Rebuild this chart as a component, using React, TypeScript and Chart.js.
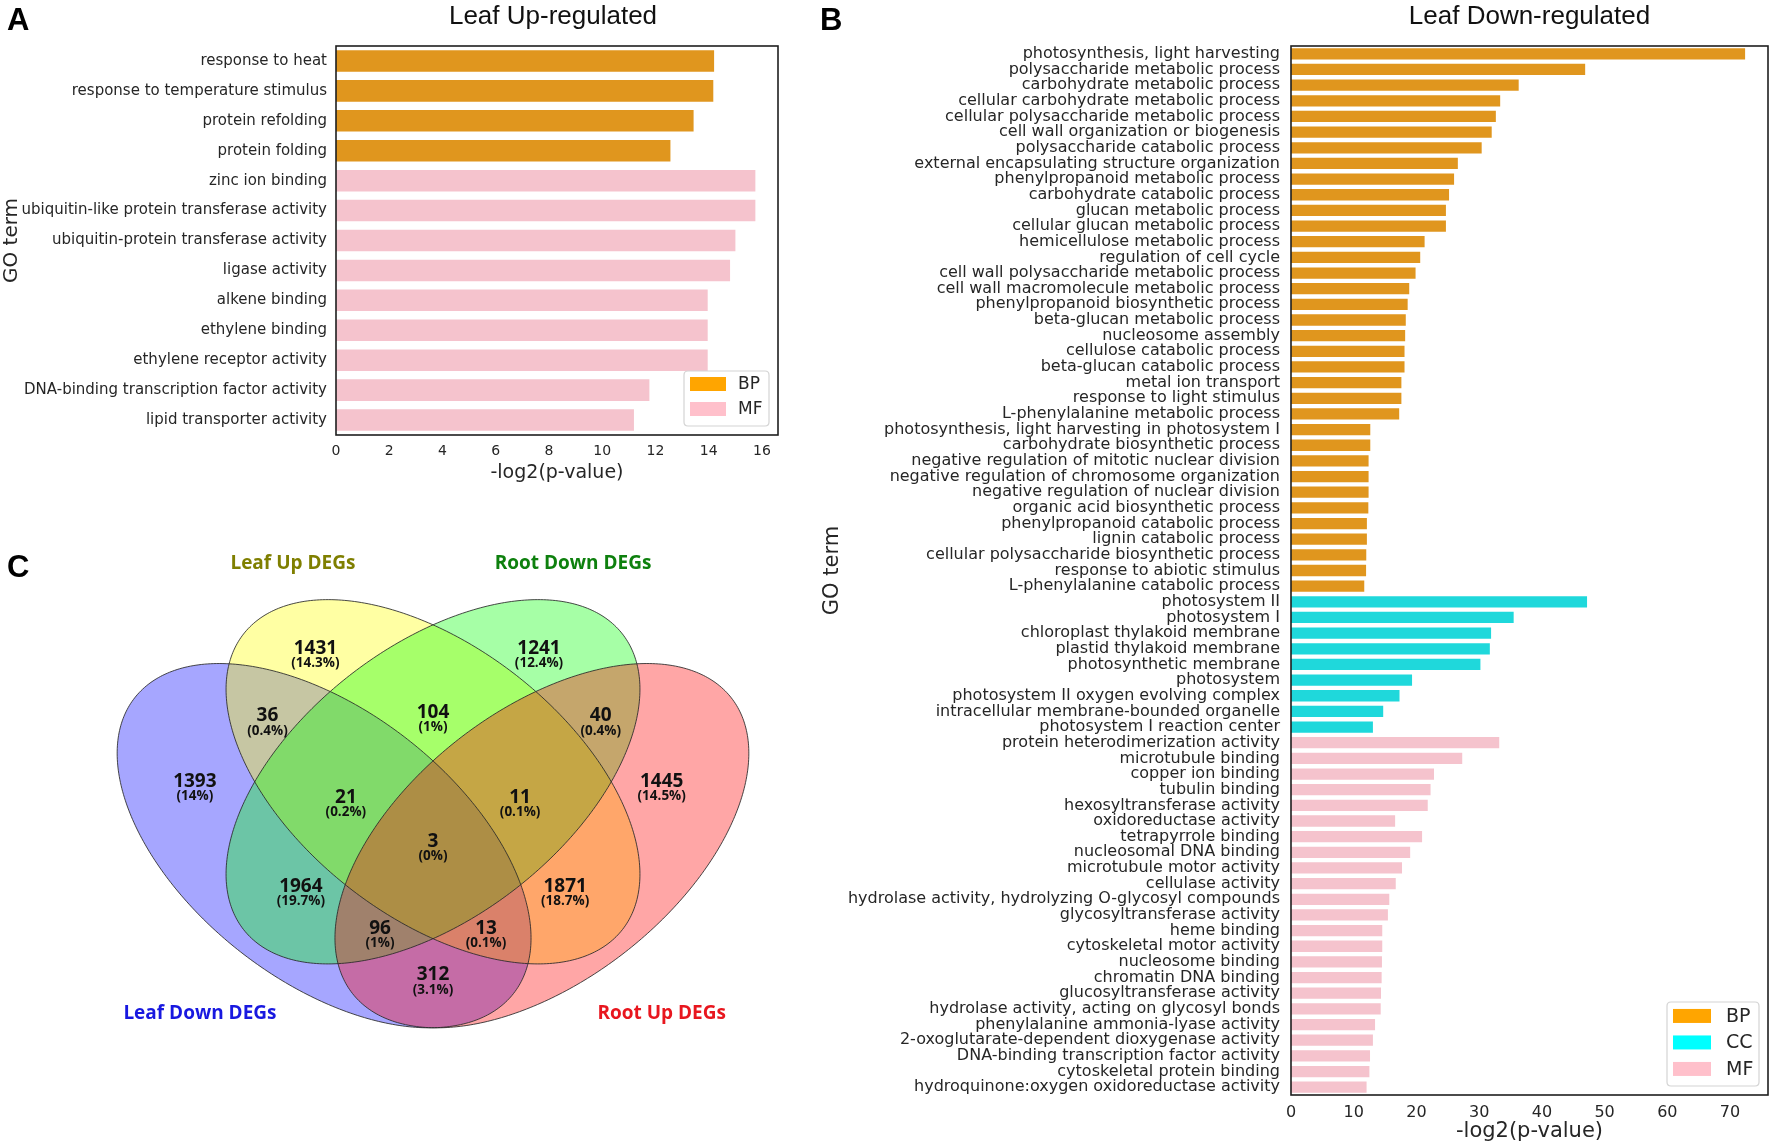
import React, { useEffect, useRef } from 'react';
import { Chart, registerables } from 'chart.js';

Chart.register(...registerables);

// ---------------- Data: panel A (Leaf Up-regulated) ----------------
const upTerms = [
  'response to heat',
  'response to temperature stimulus',
  'protein refolding',
  'protein folding',
  'zinc ion binding',
  'ubiquitin-like protein transferase activity',
  'ubiquitin-protein transferase activity',
  'ligase activity',
  'alkene binding',
  'ethylene binding',
  'ethylene receptor activity',
  'DNA-binding transcription factor activity',
  'lipid transporter activity',
];
const upCats = ['BP', 'BP', 'BP', 'BP', 'MF', 'MF', 'MF', 'MF', 'MF', 'MF', 'MF', 'MF', 'MF'];
const upValues = [14.2, 14.17, 13.43, 12.56, 15.75, 15.75, 15.0, 14.8, 13.96, 13.96, 13.96, 11.77, 11.19];

// ---------------- Data: panel B (Leaf Down-regulated) ----------------
const downTerms = [
  'photosynthesis, light harvesting',
  'polysaccharide metabolic process',
  'carbohydrate metabolic process',
  'cellular carbohydrate metabolic process',
  'cellular polysaccharide metabolic process',
  'cell wall organization or biogenesis',
  'polysaccharide catabolic process',
  'external encapsulating structure organization',
  'phenylpropanoid metabolic process',
  'carbohydrate catabolic process',
  'glucan metabolic process',
  'cellular glucan metabolic process',
  'hemicellulose metabolic process',
  'regulation of cell cycle',
  'cell wall polysaccharide metabolic process',
  'cell wall macromolecule metabolic process',
  'phenylpropanoid biosynthetic process',
  'beta-glucan metabolic process',
  'nucleosome assembly',
  'cellulose catabolic process',
  'beta-glucan catabolic process',
  'metal ion transport',
  'response to light stimulus',
  'L-phenylalanine metabolic process',
  'photosynthesis, light harvesting in photosystem I',
  'carbohydrate biosynthetic process',
  'negative regulation of mitotic nuclear division',
  'negative regulation of chromosome organization',
  'negative regulation of nuclear division',
  'organic acid biosynthetic process',
  'phenylpropanoid catabolic process',
  'lignin catabolic process',
  'cellular polysaccharide biosynthetic process',
  'response to abiotic stimulus',
  'L-phenylalanine catabolic process',
  'photosystem II',
  'photosystem I',
  'chloroplast thylakoid membrane',
  'plastid thylakoid membrane',
  'photosynthetic membrane',
  'photosystem',
  'photosystem II oxygen evolving complex',
  'intracellular membrane-bounded organelle',
  'photosystem I reaction center',
  'protein heterodimerization activity',
  'microtubule binding',
  'copper ion binding',
  'tubulin binding',
  'hexosyltransferase activity',
  'oxidoreductase activity',
  'tetrapyrrole binding',
  'nucleosomal DNA binding',
  'microtubule motor activity',
  'cellulase activity',
  'hydrolase activity, hydrolyzing O-glycosyl compounds',
  'glycosyltransferase activity',
  'heme binding',
  'cytoskeletal motor activity',
  'nucleosome binding',
  'chromatin DNA binding',
  'glucosyltransferase activity',
  'hydrolase activity, acting on glycosyl bonds',
  'phenylalanine ammonia-lyase activity',
  '2-oxoglutarate-dependent dioxygenase activity',
  'DNA-binding transcription factor activity',
  'cytoskeletal protein binding',
  'hydroquinone:oxygen oxidoreductase activity',
];
const downCats = [
  ...Array(35).fill('BP'),
  ...Array(9).fill('CC'),
  ...Array(23).fill('MF'),
];
const downValues = [
  // BP
  72.4, 46.9, 36.3, 33.35, 32.66, 32.0, 30.4, 26.6, 26.0, 25.2, 24.7, 24.7, 21.3, 20.6, 19.86,
  18.85, 18.6, 18.3, 18.2, 18.1, 18.1, 17.6, 17.6, 17.25, 12.64, 12.64, 12.37, 12.37, 12.37,
  12.33, 12.1, 12.1, 12.0, 11.97, 11.68,
  // CC
  47.2, 35.5, 31.9, 31.7, 30.2, 19.3, 17.3, 14.7, 13.06,
  // MF
  33.2, 27.3, 22.8, 22.25, 21.8, 16.6, 20.9, 19.0, 17.7, 16.7, 15.67, 15.45, 14.55, 14.55,
  14.5, 14.45, 14.35, 14.3, 13.4, 13.06, 12.6, 12.5, 12.05,
];

const upCategoryList = ['BP', 'MF'];
const downCategoryList = ['BP', 'CC', 'MF'];

// ---------------- Data: panel C (Venn) ----------------
const vennSetNames = ['Leaf Down DEGs', 'Leaf Up DEGs', 'Root Down DEGs', 'Root Up DEGs'];
const vennCounts = [1431, 1241, 36, 104, 40, 1393, 1445, 21, 11, 3, 1964, 1871, 96, 13, 312];
const vennPercents = [
  '(14.3%)', '(12.4%)', '(0.4%)', '(1%)', '(0.4%)', '(14%)', '(14.5%)', '(0.2%)', '(0.1%)',
  '(0%)', '(19.7%)', '(18.7%)', '(1%)', '(0.1%)', '(3.1%)',
];

// ---------------- Styles / layout ----------------
const barColors: Record<string, string> = { BP: '#E0961E', CC: '#1FD8DB', MF: '#F5C3CD' };
const legendColors: Record<string, string> = { BP: '#FFA500', CC: '#00FFFF', MF: '#FFC0CB' };
const vennFills = ['rgba(0,0,255,0.35)', 'rgba(255,255,0,0.36)', 'rgba(0,255,0,0.35)', 'rgba(255,0,0,0.35)'];
const vennNameColors = ['#1818E0', '#7F7F00', '#0E800E', '#E8161E'];

const vennShape = {
  a: 0.35,
  b: 0.2,
  ellipses: [
    { cx: 0.35, cy: 0.47, rot: -Math.PI / 4 },
    { cx: 0.5, cy: 0.57, rot: -Math.PI / 4 },
    { cx: 0.5, cy: 0.57, rot: Math.PI / 4 },
    { cx: 0.65, cy: 0.47, rot: Math.PI / 4 },
  ],
};
const vennRegionPos = [
  { x: 0.338, y: 0.779 }, { x: 0.646, y: 0.779 },
  { x: 0.272, y: 0.673 }, { x: 0.5, y: 0.679 }, { x: 0.731, y: 0.673 },
  { x: 0.172, y: 0.571 }, { x: 0.815, y: 0.571 },
  { x: 0.38, y: 0.546 }, { x: 0.62, y: 0.546 },
  { x: 0.5, y: 0.477 },
  { x: 0.318, y: 0.406 }, { x: 0.682, y: 0.406 },
  { x: 0.427, y: 0.341 }, { x: 0.573, y: 0.341 },
  { x: 0.5, y: 0.268 },
];
const vennNamePos = [
  { x: 0.179, y: 0.207 }, { x: 0.307, y: 0.912 }, { x: 0.693, y: 0.912 }, { x: 0.815, y: 0.207 },
];

const TEXT = '#262626';

// ---------------- Plugins ----------------
const panelDeco = {
  id: 'panelDeco',
  afterDraw(chart: any, _args: any, o: any) {
    if (!o) return;
    const { ctx, chartArea } = chart;
    ctx.save();
    if (o.frame) {
      ctx.strokeStyle = '#1e1e1e';
      ctx.lineWidth = 1.6;
      ctx.strokeRect(chartArea.left, chartArea.top, chartArea.right - chartArea.left, chartArea.bottom - chartArea.top);
    }
    if (o.title) {
      ctx.font = o.titleFont;
      ctx.fillStyle = '#111';
      ctx.textAlign = 'center';
      ctx.textBaseline = 'alphabetic';
      ctx.fillText(o.title, (chartArea.left + chartArea.right) / 2 + (o.titleDx || 0), o.titleY);
    }
    if (o.letter) {
      ctx.font = 'bold 31px "Liberation Sans", Arial, sans-serif';
      ctx.fillStyle = '#000';
      ctx.textAlign = 'left';
      ctx.textBaseline = 'alphabetic';
      ctx.fillText(o.letter, o.letterX, o.letterY);
    }
    ctx.restore();
  },
};

const boxLegend = {
  id: 'boxLegend',
  afterDraw(chart: any, _args: any, o: any) {
    if (!o || !o.display) return;
    const { ctx, chartArea } = chart;
    const items = chart.data.datasets.map((d: any) => ({ label: d.label, color: d.legendColor }));
    const x = chartArea.right - o.inset - o.width;
    const y = chartArea.bottom - o.inset - o.height;
    ctx.save();
    ctx.beginPath();
    const r = 4;
    ctx.moveTo(x + r, y);
    ctx.lineTo(x + o.width - r, y);
    ctx.quadraticCurveTo(x + o.width, y, x + o.width, y + r);
    ctx.lineTo(x + o.width, y + o.height - r);
    ctx.quadraticCurveTo(x + o.width, y + o.height, x + o.width - r, y + o.height);
    ctx.lineTo(x + r, y + o.height);
    ctx.quadraticCurveTo(x, y + o.height, x, y + o.height - r);
    ctx.lineTo(x, y + r);
    ctx.quadraticCurveTo(x, y, x + r, y);
    ctx.closePath();
    ctx.fillStyle = 'rgba(255,255,255,0.85)';
    ctx.fill();
    ctx.strokeStyle = '#d4d4d4';
    ctx.lineWidth = 1.2;
    ctx.stroke();
    ctx.font = `${o.fontSize}px "DejaVu Sans", sans-serif`;
    ctx.textBaseline = 'middle';
    ctx.textAlign = 'left';
    items.forEach((it: any, i: number) => {
      const cy = y + o.padTop + i * o.rowH + o.rowH / 2;
      ctx.fillStyle = it.color;
      ctx.fillRect(x + o.padLeft, cy - o.patchH / 2, o.patchW, o.patchH);
      ctx.fillStyle = TEXT;
      ctx.fillText(it.label, x + o.padLeft + o.patchW + o.gap, cy + 1);
    });
    ctx.restore();
  },
};

const vennDraw = {
  id: 'vennDraw',
  beforeDatasetsDraw(chart: any, _args: any, o: any) {
    if (!o) return;
    const { ctx, scales } = chart;
    const sx = scales.x;
    const sy = scales.y;
    const tracePath = (e: any) => {
      ctx.beginPath();
      for (let k = 0; k <= 360; k++) {
        const t = (k * Math.PI) / 180;
        const u = vennShape.a * Math.cos(t);
        const v = vennShape.b * Math.sin(t);
        const dx = u * Math.cos(e.rot) - v * Math.sin(e.rot);
        const dy = u * Math.sin(e.rot) + v * Math.cos(e.rot);
        const px = sx.getPixelForValue(e.cx + dx);
        const py = sy.getPixelForValue(e.cy + dy);
        if (k === 0) ctx.moveTo(px, py);
        else ctx.lineTo(px, py);
      }
      ctx.closePath();
    };
    ctx.save();
    vennShape.ellipses.forEach((e, i) => {
      tracePath(e);
      ctx.fillStyle = vennFills[i];
      ctx.fill();
    });
    ctx.strokeStyle = 'rgba(40,40,40,0.85)';
    ctx.lineWidth = 1;
    vennShape.ellipses.forEach((e) => {
      tracePath(e);
      ctx.stroke();
    });
    ctx.restore();
  },
  afterDatasetsDraw(chart: any, _args: any, o: any) {
    if (!o) return;
    const { ctx } = chart;
    const regions = chart.getDatasetMeta(0).data;
    const names = chart.getDatasetMeta(1).data;
    ctx.save();
    ctx.textAlign = 'center';
    ctx.textBaseline = 'middle';
    ctx.fillStyle = '#111';
    regions.forEach((p: any, i: number) => {
      ctx.font = 'bold 19px "Open Sans", "DejaVu Sans", sans-serif';
      ctx.fillText(String(vennCounts[i]), p.x, p.y);
      ctx.font = 'bold 13.5px "Open Sans", "DejaVu Sans", sans-serif';
      ctx.fillText(vennPercents[i], p.x, p.y + 15);
    });
    names.forEach((p: any, i: number) => {
      ctx.font = 'bold 19px "Open Sans", "DejaVu Sans", sans-serif';
      ctx.fillStyle = vennNameColors[i];
      ctx.fillText(vennSetNames[i], p.x, p.y);
    });
    ctx.restore();
  },
};

// ---------------- Config builders ----------------
function barConfig(terms: string[], cats: string[], values: number[], catList: string[], p: any) {
  const datasets = catList.map((c) => ({
    label: c,
    data: values.map((v, i) => (cats[i] === c ? v : null)),
    backgroundColor: barColors[c],
    legendColor: legendColors[c],
    grouped: false,
    barPercentage: 0.72,
    categoryPercentage: 1,
    borderWidth: 0,
  }));
  return {
    type: 'bar',
    data: { labels: terms, datasets },
    options: {
      indexAxis: 'y',
      responsive: false,
      animation: false,
      events: [],
      layout: { padding: { top: p.top, right: p.right, left: 0, bottom: 0 } },
      scales: {
        x: {
          type: 'linear',
          min: 0,
          max: p.xMax,
          grid: { display: false, drawTicks: false },
          border: { display: false },
          ticks: {
            stepSize: p.step,
            includeBounds: false,
            color: TEXT,
            padding: p.xPad,
            font: { family: '"DejaVu Sans", sans-serif', size: p.xTick },
          },
          title: {
            display: true,
            text: '-log2(p-value)',
            color: TEXT,
            padding: { top: 0, bottom: 4 },
            font: { family: '"DejaVu Sans", sans-serif', size: p.xTitle },
          },
          afterFit: (s: any) => {
            s.height = p.xH;
          },
        },
        y: {
          grid: { display: false, drawTicks: false },
          border: { display: false },
          ticks: {
            autoSkip: false,
            color: TEXT,
            padding: p.yPad,
            font: { family: '"DejaVu Sans", sans-serif', size: p.yTick },
          },
          title: {
            display: true,
            text: 'GO term',
            color: TEXT,
            padding: { top: 0, bottom: 0 },
            font: { family: '"DejaVu Sans", sans-serif', size: p.yTitle },
          },
          afterFit: (s: any) => {
            s.width = p.yW;
          },
        },
      },
      plugins: {
        legend: { display: false },
        tooltip: { enabled: false },
        panelDeco: p.deco,
        boxLegend: p.legend,
      },
    },
    plugins: [panelDeco, boxLegend],
  };
}

function vennConfig() {
  return {
    type: 'scatter',
    data: {
      datasets: [
        { label: 'regions', data: vennRegionPos, pointRadius: 0, pointHoverRadius: 0 },
        { label: 'sets', data: vennNamePos, pointRadius: 0, pointHoverRadius: 0 },
      ],
    },
    options: {
      responsive: false,
      animation: false,
      events: [],
      layout: { padding: { left: 70, right: 14, top: 27, bottom: 2 } },
      scales: {
        x: { type: 'linear', min: 0, max: 1, display: false },
        y: { type: 'linear', min: 0, max: 1, display: false },
      },
      plugins: {
        legend: { display: false },
        tooltip: { enabled: false },
        vennDraw: {},
        panelDeco: { letter: 'C', letterX: 7, letterY: 97 },
      },
    },
    plugins: [vennDraw, panelDeco],
  };
}

// ---------------- Components ----------------
function ChartBox(props: { left: number; top: number; width: number; height: number; make: () => any }) {
  const ref = useRef<HTMLCanvasElement | null>(null);
  useEffect(() => {
    if (!ref.current) return;
    const chart = new Chart(ref.current, props.make());
    return () => chart.destroy();
  }, []);
  return (
    <div
      style={{
        position: 'absolute',
        left: props.left,
        top: props.top,
        width: props.width,
        height: props.height,
      }}
    >
      <canvas ref={ref} width={props.width} height={props.height} style={{ width: props.width, height: props.height }} />
    </div>
  );
}

export default function App() {
  const makeA = () =>
    barConfig(upTerms, upCats, upValues, upCategoryList, {
      top: 46,
      right: 12,
      xMax: 16.6,
      step: 2,
      xPad: 8,
      xTick: 14,
      xTitle: 19,
      xH: 53,
      yPad: 9,
      yTick: 15,
      yTitle: 20,
      yW: 336,
      deco: {
        frame: true,
        title: 'Leaf Up-regulated',
        titleFont: '26px "Liberation Sans", Arial, sans-serif',
        titleY: 24,
        titleDx: -4,
        letter: 'A',
        letterX: 7,
        letterY: 30,
      },
      legend: {
        display: true,
        width: 85,
        height: 55,
        inset: 9,
        padTop: 0.5,
        rowH: 25,
        padLeft: 6,
        patchW: 36,
        patchH: 14,
        gap: 12,
        fontSize: 17,
      },
    });

  const makeB = () =>
    barConfig(downTerms, downCats, downValues, downCategoryList, {
      top: 46,
      right: 4,
      xMax: 76.05,
      step: 10,
      xPad: 8,
      xTick: 16,
      xTitle: 21,
      xH: 53,
      yPad: 11,
      yTick: 16,
      yTitle: 21,
      yW: 471,
      deco: {
        frame: true,
        title: 'Leaf Down-regulated',
        titleFont: '26px "Liberation Sans", Arial, sans-serif',
        titleY: 24,
        titleDx: 0,
        letter: 'B',
        letterX: 0,
        letterY: 30,
      },
      legend: {
        display: true,
        width: 92,
        height: 84,
        inset: 9,
        padTop: 0.7,
        rowH: 26.5,
        padLeft: 6,
        patchW: 38,
        patchH: 14,
        gap: 15,
        fontSize: 19,
      },
    });

  return (
    <div style={{ position: 'absolute', left: 0, top: 0, width: 1772, height: 1148, background: '#fff', overflow: 'hidden' }}>
      <ChartBox left={0} top={0} width={790} height={488} make={makeA} />
      <ChartBox left={0} top={480} width={810} height={668} make={vennConfig} />
      <ChartBox left={820} top={0} width={952} height={1148} make={makeB} />
    </div>
  );
}
